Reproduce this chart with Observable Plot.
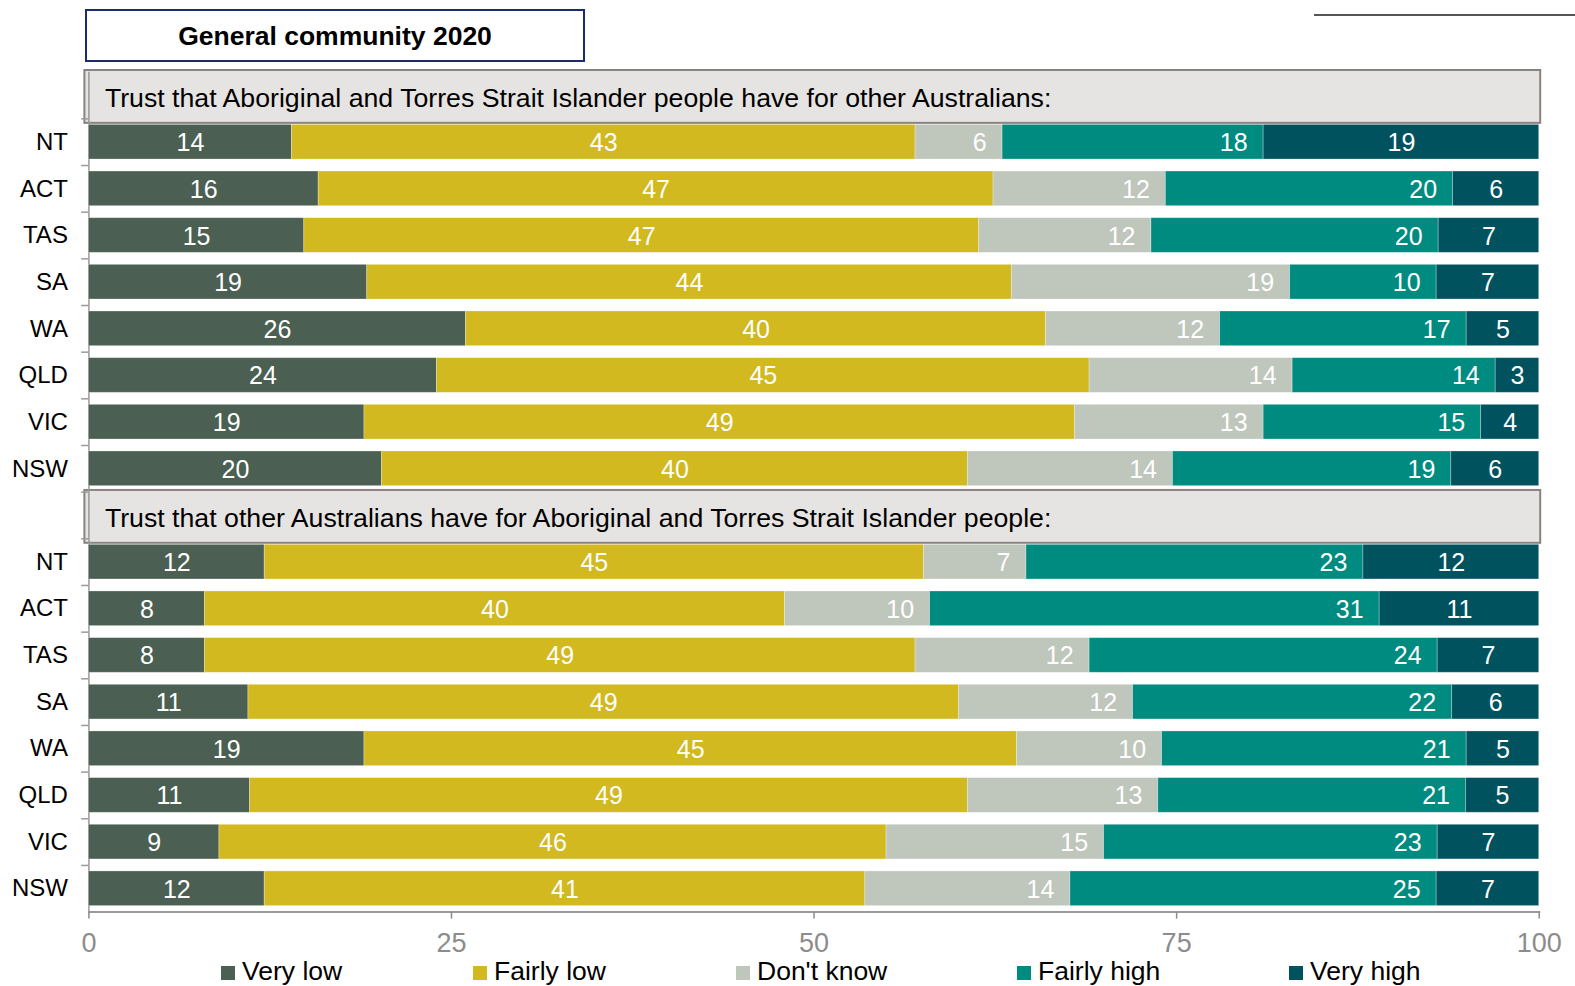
<!DOCTYPE html>
<html>
<head>
<meta charset="utf-8">
<script src="https://cdn.jsdelivr.net/npm/d3@7"></script>
<script src="https://cdn.jsdelivr.net/npm/@observablehq/plot@0.6"></script>
<style>
  body { margin:0; background:#fff; font-family:"Liberation Sans", Arial, sans-serif; }
  #wrap { position:relative; width:1575px; height:986px; overflow:hidden; }
  #title { position:absolute; left:85px; top:9px; width:496px; height:49px; border:2px solid #1c2b6b; background:#fff;
           font-weight:bold; font-size:26.5px; line-height:50px; text-align:center; color:#000; z-index:2; }
  #topline { position:absolute; left:1314px; top:14px; width:261px; height:2px; background:#555; }
  #chart { position:absolute; left:0; top:60px; width:1575px; }
  .leg { position:absolute; top:956px; font-size:26.5px; color:#000; white-space:nowrap; line-height:30px; }
  .leg span.sw { display:inline-block; width:14px; height:14px; margin-right:7px; vertical-align:0px; }
</style>
</head>
<body>
<div id="wrap">
  <div id="title">General community 2020</div>
  <div id="topline"></div>
  <div id="chart"></div>
  <div id="legend"></div>
</div>
<script>
const levels = ["Very low", "Fairly low", "Don't know", "Fairly high", "Very high"];
const levelColors = ["#4b5f52", "#d1b91f", "#bfc6bb", "#008b80", "#00525e"];
const states = ["NT", "ACT", "TAS", "SA", "WA", "QLD", "VIC", "NSW"];
const panelTitles = [
  "Trust that Aboriginal and Torres Strait Islander people have for other Australians:",
  "Trust that other Australians have for Aboriginal and Torres Strait Islander people:"
];
// values per state: [Very low, Fairly low, Don't know, Fairly high, Very high]
const trustByAboriginal = [
  [14, 43, 6, 18, 19],
  [16, 47, 12, 20, 6],
  [15, 47, 12, 20, 7],
  [19, 44, 19, 10, 7],
  [26, 40, 12, 17, 5],
  [24, 45, 14, 14, 3],
  [19, 49, 13, 15, 4],
  [20, 40, 14, 19, 6]
];
const trustByOthers = [
  [12, 45, 7, 23, 12],
  [8, 40, 10, 31, 11],
  [8, 49, 12, 24, 7],
  [11, 49, 12, 22, 6],
  [19, 45, 10, 21, 5],
  [11, 49, 13, 21, 5],
  [9, 46, 15, 23, 7],
  [12, 41, 14, 25, 7]
];
const xTicks = [0, 25, 50, 75, 100];

const panels = [trustByAboriginal, trustByOthers];
const yDomain = [];
const headers = [];
const data = [];
panels.forEach((rows, p) => {
  const hk = p + "|H";
  yDomain.push(hk);
  headers.push({key: hk, title: panelTitles[p]});
  states.forEach((s, i) => {
    const key = p + "|" + s;
    yDomain.push(key);
    rows[i].forEach((v, li) => data.push({key, state: s, level: levels[li], value: v}));
  });
});

const centerLevels = ["Very low", "Fairly low", "Very high"];
const endLevels = ["Don't know", "Fairly high"];

const H = 900, MT = 11.7, MB = 48.4;
const step = (H - MT - MB) / yDomain.length;

const stackOpts = {offset: "normalize", x: "value", y: "key", z: "level", order: levels};

const chart = Plot.plot({
  width: 1575,
  height: H,
  marginLeft: 88.4,
  marginRight: 36.3,
  marginTop: MT,
  marginBottom: MB,
  style: {fontFamily: "'Liberation Sans', Arial, sans-serif", fontSize: "24px", background: "white", overflow: "visible"},
  x: {domain: [0, 1]},
  y: {domain: yDomain, padding: 0, round: false},
  color: {domain: levels, range: levelColors},
  marks: [
    Plot.rectX(headers, {x1: d => 0, x2: d => 1, y: "key", fill: "#e5e4e2", stroke: "#8a8280", strokeWidth: 2,
      insetLeft: -4, insetRight: -1.5, insetTop: -1.7, insetBottom: -4.5}),
    Plot.text(headers, {x: d => 0, y: "key", text: "title", textAnchor: "start", dx: 16, dy: 3, fill: "#000", fontSize: 26.7}),
    Plot.ruleX([0], {stroke: "#9a9a9a", strokeWidth: 1.5}),
    Plot.ruleY(yDomain.slice(1), {y: d => d, x1: d => -0.005, x2: d => 0, dy: -step / 2, stroke: "#9a9a9a", strokeWidth: 1.5}),
    Plot.barX(data, Plot.stackX({...stackOpts, fill: "level", insetTop: 6, insetBottom: 6,
      stroke: "white", strokeOpacity: 0.35, strokeWidth: 0.8})),
    Plot.text(data, Plot.stackX({...stackOpts, text: d => centerLevels.includes(d.level) ? String(d.value) : null,
      fill: "white", fontSize: 25, dy: 1})),
    Plot.text(data, Plot.stackX2({...stackOpts, text: d => endLevels.includes(d.level) ? String(d.value) : null,
      fill: "white", fontSize: 25, dy: 1, textAnchor: "end", dx: -16})),
    Plot.frame({anchor: "bottom", stroke: "#9a9a9a", strokeWidth: 2}),
    Plot.axisX(xTicks.map(t => t / 100), {tickSize: 7, tickPadding: 14, color: "#8c8c8c", fontSize: 27,
      tickFormat: d => String(Math.round(d * 100)), label: null, strokeWidth: 1.5}),
    Plot.axisY({tickSize: 0, tickPadding: 21, fill: "#000", fontSize: 24, label: null,
      tickFormat: k => k.endsWith("|H") ? "" : k.split("|")[1]})
  ]
});
document.getElementById("chart").appendChild(chart);

const legendLeft = [221, 473, 736, 1017, 1289];
const legend = document.getElementById("legend");
levels.forEach((l, i) => {
  const d = document.createElement("div");
  d.className = "leg";
  d.style.left = legendLeft[i] + "px";
  d.innerHTML = `<span class="sw" style="background:${levelColors[i]}"></span>${l}`;
  legend.appendChild(d);
});
</script>
</body>
</html>
